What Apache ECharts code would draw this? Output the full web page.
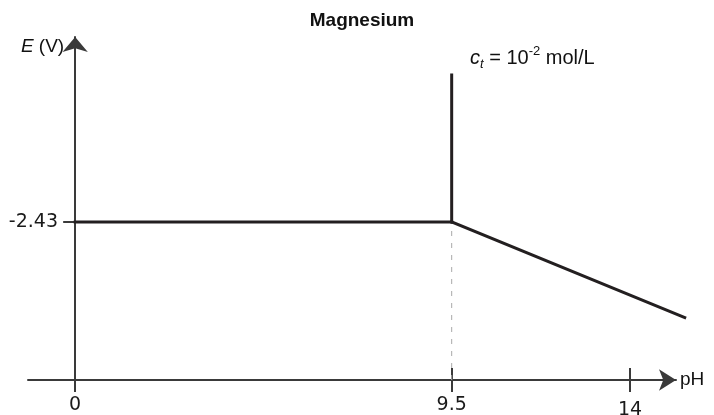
<!DOCTYPE html>
<html>
<head>
<meta charset="utf-8">
<script src="https://cdn.jsdelivr.net/npm/echarts@6/dist/echarts.min.js"></script>
<style>
	html, body { margin: 0; padding: 0; background: #fff; }
	#chart { width: 714px; height: 415px; }
</style>
</head>
<body>
<div id="chart"></div>
<script>
	// pH ticks and the one labelled potential
	var xTicks = [0, 9.5, 14];
	var xInnerTicks = [9.5, 14];
	var yTicks = [-2.43];

	// boundaries of the Pourbaix diagram (pH, E)
	var flatLine = [[0, -2.43], [9.5, -2.43]];
	var verticalLine = [[9.5, -2.43], [9.5, -1.9]];
	var slopeLine = [[9.5, -2.43], [15.38, -2.775]];
	var guideLine = [[9.5, -3.0], [9.5, -2.43]];

	var axisColor = "#3a3a3a";
	var lineColor = "#231f20";
	var textFont = "Arial, 'Liberation Sans', sans-serif";
	var tickFont = "'DejaVu Sans', sans-serif";

	var chart = echarts.init(document.getElementById("chart"));

	// one straight segment, drawn with a custom series so it is not clipped at the grid edge
	function segment(points, style) {
		return {
			type: "custom",
			clip: false,
			silent: true,
			data: [[points[0][0], points[0][1], points[1][0], points[1][1]]],
			encode: {
				x: [0, 2],
				y: [1, 3]
			},
			renderItem: function (params, api) {
				var a = api.coord([api.value(0), api.value(1)]);
				var b = api.coord([api.value(2), api.value(3)]);
				return {
					type: "line",
					shape: {
						x1: a[0],
						y1: a[1],
						x2: b[0],
						y2: b[1]
					},
					style: style
				};
			}
		};
	}

	var boundaryStyle = {
		stroke: lineColor,
		lineWidth: 3,
		lineCap: "square"
	};

	var option = {
		animation: false,
		title: {
			text: "Magnesium",
			left: 357,
			top: 6,
			textAlign: "center",
			textStyle: {
				fontFamily: textFont,
				fontWeight: "bold",
				fontSize: 19,
				color: "#111"
			}
		},
		grid: {
			left: 28,
			right: 38,
			top: 37,
			bottom: 35,
			containLabel: false,
			outerBoundsMode: "none"
		},
		xAxis: [{
			type: "value",
			min: -1.19,
			max: 15.16,
			position: "bottom",
			name: "pH",
			nameLocation: "end",
			nameGap: 4,
			nameTextStyle: {
				fontFamily: textFont,
				fontSize: 19,
				color: "#111"
			},
			axisLine: {
				symbol: ["none", "arrow"],
				symbolSize: [16, 17],
				lineStyle: {
					color: axisColor,
					width: 2
				}
			},
			axisTick: {
				customValues: xTicks,
				length: 12,
				lineStyle: {
					color: axisColor,
					width: 2
				}
			},
			axisLabel: {
				customValues: xTicks,
				margin: 16,
				fontFamily: tickFont,
				fontSize: 19,
				color: "#1a1a1a",
				formatter: function (v) {
					return v === 14 ? "{low|14}" : String(v);
				},
				rich: {
					low: {
						fontFamily: tickFont,
						fontSize: 19,
						color: "#1a1a1a",
						padding: [5, 0, 0, 0]
					}
				}
			},
			splitLine: {
				show: false
			}
		}, {
			type: "value",
			min: -1.19,
			max: 15.16,
			position: "bottom",
			axisLine: {
				show: false
			},
			axisTick: {
				inside: true,
				customValues: xInnerTicks,
				length: 12,
				lineStyle: {
					color: axisColor,
					width: 2
				}
			},
			axisLabel: {
				show: false
			},
			splitLine: {
				show: false
			}
		}],
		yAxis: {
			type: "value",
			min: -3.0,
			max: -1.763,
			name: "{i|E} (V)",
			nameLocation: "end",
			nameGap: -10,
			nameTextStyle: {
				fontFamily: textFont,
				fontSize: 19,
				color: "#111",
				align: "right",
				verticalAlign: "middle",
				padding: [0, 11, 0, 0],
				rich: {
					i: {
						fontFamily: textFont,
						fontSize: 19,
						fontStyle: "italic",
						color: "#111"
					}
				}
			},
			axisLine: {
				onZero: true,
				symbol: ["none", "arrow"],
				symbolSize: [19, 15],
				lineStyle: {
					color: axisColor,
					width: 2
				}
			},
			axisTick: {
				customValues: yTicks,
				length: 12,
				lineStyle: {
					color: axisColor,
					width: 2
				}
			},
			axisLabel: {
				customValues: yTicks,
				margin: -30,
				fontFamily: tickFont,
				fontSize: 19,
				color: "#1a1a1a",
				formatter: function (v) {
					return v.toFixed(2);
				}
			},
			splitLine: {
				show: false
			}
		},
		graphic: [{
			type: "text",
			left: 470,
			top: 45,
			style: {
				text: "{c|c}{t|t}{m| = 10}{s|-2}{m| mol/L}",
				rich: {
					c: {
						fontFamily: textFont,
						fontSize: 20,
						fontStyle: "italic",
						lineHeight: 26,
						fill: "#111"
					},
					t: {
						fontFamily: textFont,
						fontSize: 13,
						fontStyle: "italic",
						lineHeight: 26,
						verticalAlign: "bottom",
						fill: "#111"
					},
					m: {
						fontFamily: textFont,
						fontSize: 20,
						lineHeight: 26,
						fill: "#111"
					},
					s: {
						fontFamily: textFont,
						fontSize: 13,
						lineHeight: 26,
						verticalAlign: "top",
						fill: "#111"
					}
				}
			}
		}],
		series: [
			segment(guideLine, {
				stroke: "#aaaaaa",
				lineWidth: 1,
				lineDash: [5, 7]
			}),
			segment(flatLine, boundaryStyle),
			segment(verticalLine, boundaryStyle),
			segment(slopeLine, boundaryStyle)
		]
	};

	chart.setOption(option);
</script>
</body>
</html>
